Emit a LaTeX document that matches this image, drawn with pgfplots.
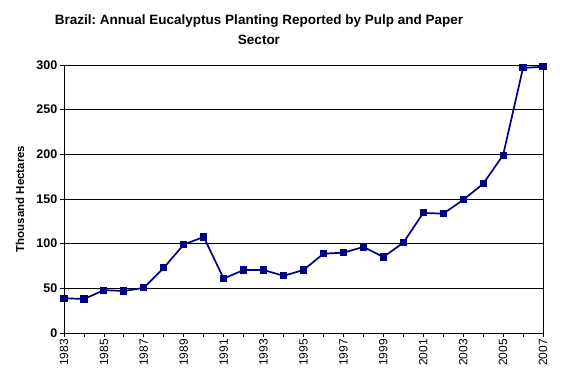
\documentclass[border=0pt]{standalone}
\usepackage{fontspec}
\setmainfont{Liberation Sans}
\usepackage{pgfplots}
\pgfplotsset{compat=1.18}
\definecolor{navyline}{RGB}{0,0,128}
\frenchspacing
\begin{document}
\begin{tikzpicture}[x=1pt,y=1pt]
\useasboundingbox (-64,-44) rectangle (502,333);
\begin{axis}[
  at={(0,0)}, anchor=south west,
  scale only axis, width=479pt, height=268pt,
  xmin=1983, xmax=2007, ymin=0, ymax=300,
  xtick={1983,1985,...,2007},
  minor xtick={1984,1986,...,2006},
  ytick={0,50,...,300},
  tick align=outside,
  major tick length=4pt, minor tick length=4pt,
  tick style={black, line width=0.8pt},
  xtick pos=bottom, ytick pos=left,
  ymajorgrids,
  grid style={black, line width=0.7pt},
  axis line style={black, line width=0.8pt},
  /pgf/number format/assume math mode=true,
  /pgf/number format/1000 sep={},
  xticklabel style={rotate=90, anchor=east, font=\fontsize{12}{14}\selectfont, inner sep=2pt},
  yticklabel style={font=\bfseries\fontsize{12.5}{14}\selectfont, inner sep=2.5pt},
]
\addplot[navyline, line width=1.7pt, mark=square*, mark size=2.7pt, mark options={solid}] coordinates {
(1983,39) (1984,38) (1985,48) (1986,47) (1987,50.5) (1988,73) (1989,99) (1990,107.5)
(1991,61) (1992,70.5) (1993,70.5) (1994,64) (1995,70.5) (1996,88.8) (1997,89.9)
(1998,96.3) (1999,85.1) (2000,101) (2001,134.4) (2002,133.6) (2003,149) (2004,167)
(2005,199) (2006,296.7) (2007,298)
};
\end{axis}
\node[rotate=90, font=\bfseries\fontsize{11.5}{13}\selectfont] at (-44,134) {Thousand Hectares};
\node[align=center, font=\bfseries\fontsize{13.5}{20}\selectfont] at (195,303) {Brazil: Annual Eucalyptus Planting Reported by Pulp and Paper\\Sector};
\end{tikzpicture}
\end{document}
